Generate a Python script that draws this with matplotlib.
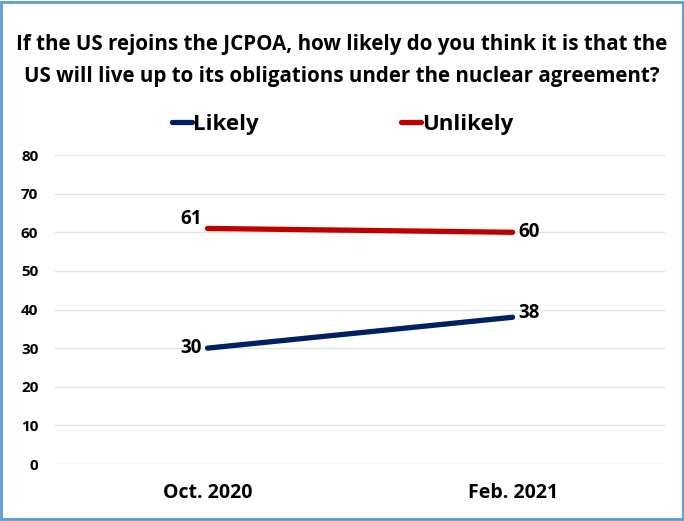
import matplotlib
matplotlib.use("Agg")
import matplotlib.pyplot as plt
from matplotlib.patches import Rectangle

categories = ["Oct. 2020", "Feb. 2021"]
likely = [30, 38]
unlikely = [61, 60]
yticks = [0, 10, 20, 30, 40, 50, 60, 70, 80]

title = ("If the US rejoins the JCPOA, how likely do you think it is that the\n"
         "US will live up to its obligations under the nuclear agreement?")

plt.rcParams["font.family"] = ["Open Sans", "DejaVu Sans"]
plt.rcParams["font.weight"] = "bold"

fig = plt.figure(figsize=(6.84, 5.21), dpi=100)
ax = fig.add_axes([0.0804, 0.1094, 0.892, 0.593])

x = list(range(len(categories)))
blue = "#002060"
red = "#c00000"
ax.plot(x, likely, color=blue, lw=3.8, solid_capstyle="round", label="Likely")
ax.plot(x, unlikely, color=red, lw=3.8, solid_capstyle="round", label="Unlikely")

# data labels
lab_fs = 13.5
ax.annotate(str(likely[0]), (x[0], likely[0]), xytext=(-4, 0), textcoords="offset points",
            ha="right", va="center", fontsize=lab_fs, fontweight="bold")
ax.annotate(str(likely[1]), (x[1], likely[1]), xytext=(4, 3), textcoords="offset points",
            ha="left", va="center", fontsize=lab_fs, fontweight="bold")
ax.annotate(str(unlikely[0]), (x[0], unlikely[0]), xytext=(-4, 7), textcoords="offset points",
            ha="right", va="center", fontsize=lab_fs, fontweight="bold")
ax.annotate(str(unlikely[1]), (x[1], unlikely[1]), xytext=(4, 0), textcoords="offset points",
            ha="left", va="center", fontsize=lab_fs, fontweight="bold")

ax.set_xlim(-0.5, 1.5)
ax.set_ylim(0, 80)
ax.set_yticks(yticks)
ax.set_xticks(x)
ax.set_xticklabels(categories, fontsize=14, fontweight="bold")
ax.tick_params(axis="y", labelsize=11, length=0, pad=12)
ax.tick_params(axis="x", length=0, pad=14)
for lbl in ax.get_yticklabels():
    lbl.set_fontweight("bold")
ax.grid(axis="y", color="#e3e3e3", lw=1)
ax.set_axisbelow(True)
for s in ax.spines.values():
    s.set_visible(False)

leg = ax.legend(loc="lower center", bbox_to_anchor=(0.471, 1.0), ncol=2, frameon=False,
                handlelength=0.9, handletextpad=0.05, columnspacing=6.4,
                prop={"size": 16, "weight": "bold"})

fig.text(0.5, 0.935, title, ha="center", va="top", fontsize=14.8, fontweight="bold",
         linespacing=1.72)

fig.patches.append(Rectangle((0.002, 0.003), 0.996, 0.994, transform=fig.transFigure,
                             fill=False, edgecolor="#5b9bd5", lw=2))

fig.savefig("out.png", dpi=100)
